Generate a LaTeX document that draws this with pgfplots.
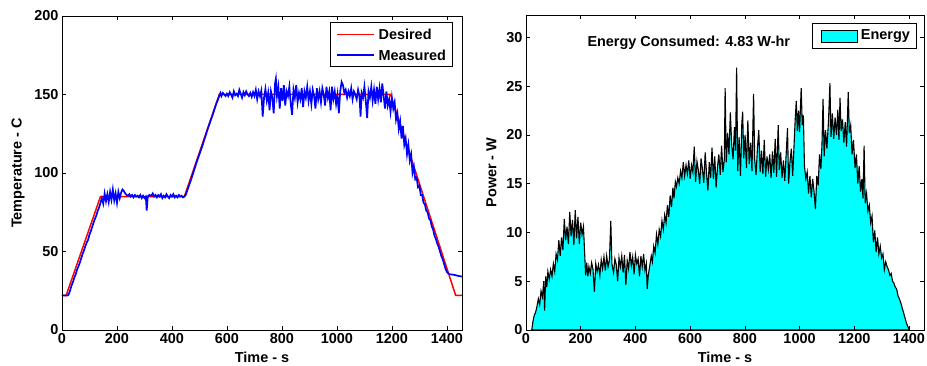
\documentclass[border=0pt]{standalone}
\usepackage{pgfplots}
\pgfplotsset{compat=1.18}
\usepackage{fontspec}
\setmainfont{Liberation Sans}
\definecolor{mred}{RGB}{255,0,0}
\definecolor{mblue}{RGB}{0,0,255}
\definecolor{mcyan}{RGB}{0,255,255}
\begin{document}
\begin{tikzpicture}
\useasboundingbox (-62bp,-36bp) rectangle (865bp,330bp);
\pgfplotsset{
  every axis/.append style={
    scale only axis,
    font=\fontsize{14.5}{16}\selectfont\bfseries,
    /pgf/number format/assume math mode=true,
    /pgf/number format/1000 sep={},
    ticklabel style={font=\fontsize{14.5}{16}\selectfont\bfseries},
    tick align=inside,
    major tick length=4bp,
    axis line style={line width=0.9bp},
    every tick/.append style={black, line width=0.6bp},
    xmin=0, xmax=1455,
    xtick={0,200,...,1400},
    scaled ticks=false,
    axis on top,
    xlabel style={yshift=-1bp},
    ylabel style={yshift=3bp},
  }
}
\begin{axis}[
  at={(0,0)}, anchor=south west,
  width=400bp, height=314bp,
  ymin=0, ymax=200,
  ytick={0,50,...,200},
  xlabel={Time - s}, ylabel={Temperature - C},
]
\addplot[mred, line width=1.5bp] coordinates {
(0,22) (15,22) (140,85) (445,85) (572,150) (1195,150) (1432,22) (1455,22)
};
\addplot[mblue, line width=1.7bp] coordinates {
(0,22) (10,22) (20,22) (24,22.5) (30,25.5) (35,28.5) (40,30.6) (45,33.5) (50,35.6) (55,38.5)
(60,40.6) (65,43) (70,45.7) (75,48.5) (80,50.7) (85,53.5) (90,55.8) (95,57.5) (100,60.8) (105,63)
(110,65.8) (115,68.5) (120,70.9) (125,73) (130,75.9) (135,78) (140,81) (145,84) (150,80.5) (155,87)
(160,82) (165,86.5) (170,81.5) (175,88) (180,83) (185,89.5) (190,82.5) (195,87) (200,81) (205,88)
(210,84) (215,87.5) (220,89.5) (225,88.5) (230,87) (235,86) (240,85.5) (245,86.5) (250,85) (255,86)
(260,84.5) (265,86) (270,85) (275,85.5) (280,84.5) (285,86) (290,84) (295,85.5) (300,84) (305,85)
(308,76) (312,85) (318,86) (325,85.5) (330,87) (335,85) (340,86) (345,84.5) (350,86) (355,85)
(360,86.5) (365,84) (370,85.5) (375,84.5) (380,86.5) (385,85) (390,84) (395,86) (400,85) (405,86.5)
(410,84.5) (415,85.5) (420,84.5) (425,86) (430,85) (435,85.5) (440,84.5) (445,85) (450,86) (460,91)
(470,96) (480,101.5) (490,107) (500,112) (510,117) (520,122.5) (530,128) (540,133) (550,138) (560,143.5)
(570,148) (576,151) (580,149) (585,151) (590,150) (595,149) (600,150.5) (605,149) (610,151.5) (615,150)
(620,148) (625,152) (630,149.5) (635,150.5) (640,149) (645,153) (650,150.5) (655,148) (660,151.5) (665,149.5)
(670,152) (675,150) (680,149) (685,151) (690,148.5) (695,151.5) (700,149) (705,153) (710,147) (715,152)
(720,149) (725,152.5) (730,136) (735,148) (740,153.5) (745,146) (750,151) (755,140) (760,152) (765,148)
(770,138) (775,157) (778,160) (782,149) (787,155) (792,141) (797,154) (802,146) (807,156) (812,143)
(817,152) (822,149) (827,155) (832,144) (837,137) (842,153) (847,148) (852,156) (857,145) (862,151)
(867,147) (872,154) (877,142) (882,152) (887,148) (892,155) (897,146) (902,152) (907,144) (912,153)
(917,149) (922,141) (927,154) (932,147) (937,152) (942,145) (947,154) (952,150) (957,143) (962,155)
(967,148) (972,152) (977,140) (982,155) (987,147) (992,152) (997,144) (1002,150) (1007,138) (1012,152)
(1017,158) (1022,156) (1027,151) (1032,153) (1037,148) (1042,152) (1047,149) (1052,154) (1057,147) (1062,152)
(1067,150) (1072,147) (1077,153) (1082,149) (1086,136) (1090,151) (1095,148) (1100,155) (1105,146) (1110,135)
(1115,152) (1120,148) (1125,155) (1130,146) (1135,153) (1140,144) (1145,155) (1150,147) (1155,154) (1160,145)
(1165,157) (1170,149) (1175,141) (1180,152) (1185,143) (1190,147) (1195,139) (1200,148) (1205,141) (1210,145)
(1215,134) (1220,138) (1225,128) (1230,133) (1235,122) (1240,130) (1245,118) (1250,122) (1255,112) (1260,118)
(1265,108) (1270,112) (1275,100) (1280,104) (1285,96) (1290,97) (1295,91) (1300,92) (1305,86) (1310,86)
(1315,81) (1320,80) (1325,76) (1330,75) (1335,71) (1340,70) (1345,66) (1350,64) (1355,60) (1360,58)
(1365,55) (1370,53) (1375,50) (1380,47) (1385,45) (1390,42) (1395,39) (1400,37) (1405,36) (1410,35.5)
(1420,35.3) (1430,35) (1440,34.5) (1450,34.2) (1455,34)
};
% legend
\draw[black, line width=1bp, fill=white] (rel axis cs:0.670,0.979) rectangle (rel axis cs:0.977,0.8385);
\draw[mred, line width=1.6bp] (rel axis cs:0.688,0.9417) -- (rel axis cs:0.780,0.9417);
\draw[mblue, line width=1.6bp] (rel axis cs:0.688,0.8758) -- (rel axis cs:0.780,0.8758);
\node[anchor=west, inner sep=0pt, font=\fontsize{14.5}{16}\selectfont\bfseries] at (rel axis cs:0.791,0.9417) {Desired};
\node[anchor=west, inner sep=0pt, font=\fontsize{14.5}{16}\selectfont\bfseries] at (rel axis cs:0.791,0.8758) {Measured};
\end{axis}

\begin{axis}[
  at={(464bp,0)}, anchor=south west,
  width=398bp, height=315bp,
  ymin=0, ymax=32.3,
  ytick={0,5,...,30},
  xlabel={Time - s}, ylabel={Power - W},
]
\addplot[fill=mcyan, draw=black, line width=1.1bp] coordinates {
(21,0) (25,0.8) (30,1.5) (35,1.8) (40,2.4) (45,3.2) (50,2.6) (55,4.0) (60,3.4) (65,5.0)
(68,2.0) (72,5.5) (76,4.4) (80,6.0) (85,5.2) (90,6.2) (95,5.5) (100,6.8) (105,6.0) (110,7.8)
(115,7.2) (120,9.2) (125,7.6) (130,9.5) (135,8.2) (140,11.4) (145,9.2) (150,10.6) (155,8.8) (160,12.1)
(165,9.6) (170,11.3) (175,8.7) (180,12.3) (185,9.4) (190,11.6) (195,8.8) (200,11.0) (205,9.8) (210,10.6)
(215,7.5) (218,5.6) (222,6.9) (226,5.5) (230,6.5) (235,5.8) (240,6.9) (245,6.2) (250,3.9) (255,6.8)
(260,6.0) (265,6.7) (270,5.6) (275,7.2) (280,6.3) (285,7.5) (290,6.1) (295,7.6) (300,6.5) (305,7.2)
(310,11.2) (314,6.8) (320,5.9) (325,7.3) (330,6.7) (335,5.0) (340,7.4) (345,6.5) (350,7.6) (355,5.9)
(360,7.7) (365,4.6) (370,7.1) (375,6.3) (380,8.0) (385,6.6) (390,7.5) (395,5.7) (400,7.7) (405,6.8)
(410,7.3) (415,5.5) (420,7.6) (425,6.5) (430,7.8) (435,6.1) (440,6.8) (443,4.2) (447,5.6) (452,6.5)
(458,7.6) (462,7.0) (467,8.6) (472,7.9) (477,9.8) (482,8.8) (487,10.3) (492,9.6) (497,11.2) (502,10.3)
(507,11.8) (512,11.0) (517,12.8) (522,11.6) (527,13.8) (532,12.6) (537,14.6) (541,13.5) (546,15.2) (550,14.7)
(555,15.6) (560,15.0) (565,16.3) (570,15.6) (575,17.2) (580,15.8) (585,16.9) (590,16.0) (595,17.4) (600,15.5)
(605,16.9) (610,16.2) (615,18.8) (620,15.2) (625,17.3) (630,16.4) (635,15.0) (640,17.6) (645,16.5) (650,15.1)
(655,18.2) (660,16.1) (665,14.3) (670,17.2) (675,15.6) (680,18.7) (685,15.5) (690,17.8) (695,14.6) (700,16.7)
(705,18.0) (710,15.9) (715,18.9) (720,16.2) (725,17.5) (728,24.8) (732,17.2) (737,20.2) (742,18.0) (747,22.3)
(752,19.0) (757,17.5) (762,20.8) (766,18.4) (770,26.9) (774,16.3) (779,19.8) (784,15.8) (789,21.2) (792,22.4)
(796,17.6) (801,20.0) (806,16.6) (811,21.5) (816,17.0) (821,19.2) (826,16.3) (832,24.2) (836,17.5) (841,15.9)
(846,18.6) (851,20.5) (856,16.2) (861,18.4) (866,16.0) (871,19.5) (876,15.7) (881,17.8) (886,16.5) (891,18.0)
(896,15.6) (901,18.3) (906,16.1) (911,19.6) (916,15.7) (922,21.0) (926,16.4) (931,18.2) (936,15.6) (941,17.4)
(946,15.3) (951,18.0) (956,20.7) (960,15.0) (965,17.2) (970,18.6) (975,15.8) (980,19.0) (984,21.5) (988,23.5)
(992,20.4) (996,22.5) (1000,20.3) (1006,24.8) (1010,21.0) (1014,22.0) (1018,16.8) (1023,15.5) (1028,16.2) (1033,14.0)
(1038,15.8) (1043,13.6) (1048,15.5) (1053,14.2) (1058,12.4) (1063,15.8) (1068,14.8) (1073,18.0) (1078,16.5) (1082,19.0)
(1086,23.7) (1090,17.8) (1095,20.5) (1100,18.6) (1106,21.5) (1111,25.3) (1115,19.8) (1120,22.2) (1125,19.6) (1130,21.8)
(1135,20.0) (1140,22.6) (1144,19.5) (1148,23.8) (1152,20.4) (1157,21.6) (1162,19.2) (1167,21.3) (1172,18.8) (1178,24.4)
(1182,20.2) (1187,21.0) (1192,18.0) (1197,19.5) (1203,16.6) (1208,18.0) (1213,15.0) (1218,16.8) (1223,14.2) (1228,15.5)
(1232,13.5) (1236,18.9) (1240,13.0) (1245,14.0) (1250,12.2) (1255,12.8) (1260,11.0) (1265,11.7) (1270,9.0) (1275,10.2)
(1280,8.0) (1285,9.5) (1290,7.8) (1295,8.6) (1300,7.4) (1305,7.8) (1310,6.2) (1315,7.0) (1320,6.5) (1325,6.2)
(1330,5.6) (1335,5.8) (1340,5.0) (1345,4.8) (1350,4.4) (1355,4.2) (1360,3.5) (1365,3.2) (1370,2.8) (1375,2.3)
(1380,1.8) (1385,1.3) (1390,0.8) (1395,0.4) (1402,0)
} \closedcycle;
\node[font=\fontsize{14.5}{16}\selectfont\bfseries] at (axis cs:595,29.4) {Energy Consumed: 4.83 W-hr};
% legend
\draw[black, line width=1bp, fill=white] (rel axis cs:0.7204,0.9715) rectangle (rel axis cs:0.9817,0.8946);
\draw[black, line width=0.6bp, fill=mcyan] (rel axis cs:0.7412,0.9525) rectangle (rel axis cs:0.8334,0.9124);
\node[anchor=west, inner sep=0pt, font=\fontsize{14.5}{16}\selectfont\bfseries] at (rel axis cs:0.841,0.932) {Energy};
\end{axis}
\end{tikzpicture}
\end{document}
